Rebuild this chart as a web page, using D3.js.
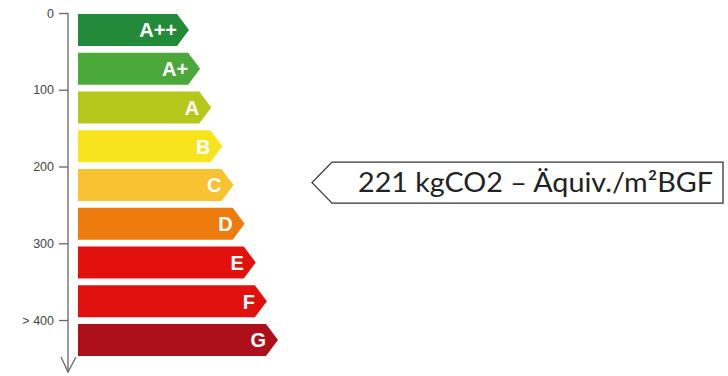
<!DOCTYPE html>
<html>
<head>
<meta charset="utf-8">
<script src="https://cdn.jsdelivr.net/npm/d3@7"></script>
<style>
  html, body { margin: 0; padding: 0; background: #fff; }
  svg { display: block; }
</style>
</head>
<body>
<svg id="chart" width="728" height="376"></svg>
<script>
// Energy / emission classes, best to worst
const classes = ["A++", "A+", "A", "B", "C", "D", "E", "F", "G"];
const classColors = ["#238a3a", "#4ba83b", "#b5c71a", "#f7e41c", "#f9c232", "#ee7b0d", "#e3110e", "#e0100f", "#ae101b"];

// Emission axis (kgCO2-Äquiv./m²BGF)
const tickValues = [0, 100, 200, 300, 400];
const tickLabels = ["0", "100", "200", "300", "> 400"];

// Building value
const value = 221;
const valueUnit = "kgCO2 – Äquiv./m²BGF";

const svg = d3.select("#chart");

// Layout
const axisX = 68;
const barLeft = 78;
const arrowDepth = 12;

const y = d3.scaleLinear().domain([0, 400]).range([13, 320]);

const band = d3.scaleBand()
  .domain(classes)
  .range([14, 356])
  .paddingInner(0.174)
  .paddingOuter(0);

// Each class bar is one step longer than the previous one
const tipX = d3.scaleLinear().domain([0, classes.length - 1]).range([189, 278]);

// Class bars (arrow shaped)
const bars = svg.append("g").attr("class", "bars");
classes.forEach((c, i) => {
  const top = band(c);
  const h = band.bandwidth();
  const tip = tipX(i);
  const body = tip - arrowDepth;
  const path = d3.path();
  path.moveTo(barLeft, top);
  path.lineTo(body, top);
  path.lineTo(tip, top + h / 2);
  path.lineTo(body, top + h);
  path.lineTo(barLeft, top + h);
  path.closePath();
  bars.append("path")
    .attr("d", path.toString())
    .attr("fill", classColors[i]);
  bars.append("text")
    .attr("x", tip - 12)
    .attr("y", top + h / 2)
    .attr("dy", "0.37em")
    .attr("text-anchor", "end")
    .attr("fill", "#fff")
    .attr("font-family", "Liberation Sans, Arial, sans-serif")
    .attr("font-weight", "bold")
    .attr("font-size", 20)
    .text(c);
});

// Vertical axis with ticks
const axis = d3.axisLeft(y)
  .tickValues(tickValues)
  .tickFormat((d, i) => tickLabels[i])
  .tickSize(9)
  .tickPadding(5);

const axisG = svg.append("g")
  .attr("transform", `translate(${axisX},0)`)
  .call(axis);
axisG.select(".domain").remove();
axisG.selectAll(".tick line").attr("stroke", "#666").attr("stroke-width", 1.3);
axisG.selectAll(".tick text")
  .attr("fill", "#444")
  .attr("font-family", "Liberation Sans, Arial, sans-serif")
  .attr("font-size", 12.5);

// Axis line running downward into an arrow head
const axisBottom = 372;
svg.append("line")
  .attr("x1", axisX).attr("x2", axisX)
  .attr("y1", y(0)).attr("y2", axisBottom)
  .attr("stroke", "#666").attr("stroke-width", 1.3);
svg.append("path")
  .attr("d", `M${axisX - 7},${axisBottom - 15}L${axisX},${axisBottom}L${axisX + 8},${axisBottom - 15}`)
  .attr("fill", "none")
  .attr("stroke", "#666")
  .attr("stroke-width", 1.3);

// Value pointer
const py = y(value);
const boxLeft = 332, boxRight = 723, boxHalf = 20.5, pointerTip = 312;
svg.append("path")
  .attr("d", `M${pointerTip},${py}L${boxLeft},${py - boxHalf}L${boxRight},${py - boxHalf}L${boxRight},${py + boxHalf}L${boxLeft},${py + boxHalf}Z`)
  .attr("fill", "#fff")
  .attr("stroke", "#333")
  .attr("stroke-width", 1.3);
svg.append("text")
  .attr("x", 358)
  .attr("y", py)
  .attr("dy", "0.36em")
  .attr("fill", "#222")
  .attr("font-family", "Lato, 'Open Sans', sans-serif")
  .attr("font-size", 26)
  .attr("textLength", 355)
  .attr("lengthAdjust", "spacingAndGlyphs")
  .text(`${value} ${valueUnit}`);
</script>
</body>
</html>
